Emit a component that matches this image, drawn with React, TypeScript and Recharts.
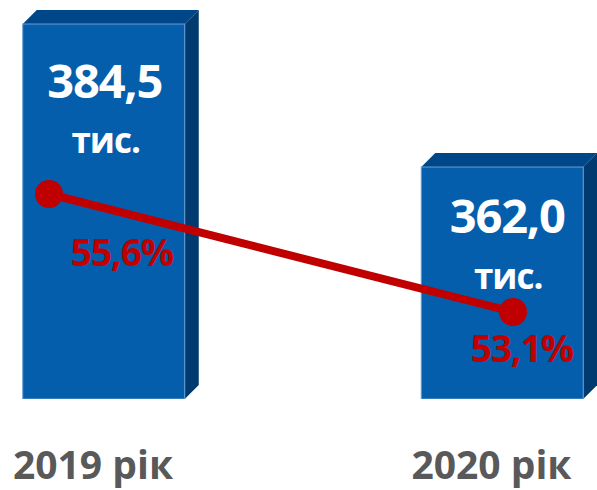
import React from 'react';
import { ComposedChart, Bar, Line, XAxis, YAxis, LabelList } from 'recharts';

const categories = ['2019 рік', '2020 рік'];
const employed = [384.5, 362.0];
const employedLabels = ['384,5', '362,0'];
const unitLabel = 'тис.';
const shares = [55.6, 53.1];
const shareLabels = ['55,6%', '53,1%'];

const data = categories.map((c, i) => ({
  idx: i,
  cat: c,
  employed: employed[i],
  share: shares[i],
}));

const FONT = '"Open Sans", "Noto Sans", sans-serif';
const DEPTH = 14;

const Bar3D = (props: any) => {
  const { x, y, width, height } = props;
  const d = DEPTH;
  return (
    <g>
      <polygon
        points={`${x},${y} ${x + d},${y - d} ${x + width + d},${y - d} ${x + width},${y}`}
        fill="#00478A"
      />
      <polygon
        points={`${x + width},${y} ${x + width + d},${y - d} ${x + width + d},${y + height - d} ${x + width},${y + height}`}
        fill="#003A6E"
      />
      <rect x={x} y={y} width={width} height={height} fill="#055EAC" stroke="#6A9BD2" strokeWidth={1} />
    </g>
  );
};

const valueOffsets = [
  { dx: 1, dy1: 74, dy2: 129 },
  { dx: 5, dy1: 66, dy2: 122 },
];

const BarValueLabel = (props: any) => {
  const { x, y, width, index } = props;
  const o = valueOffsets[index];
  const cx = x + width / 2 + o.dx;
  return (
    <g>
      <text x={cx} y={y + o.dy1} textAnchor="middle" fill="#FFFFFF" fontFamily={FONT} fontWeight={700} fontSize={47} letterSpacing={-1.2}>
        {employedLabels[index]}
      </text>
      <text x={cx + 1} y={y + o.dy2} textAnchor="middle" fill="#FFFFFF" fontFamily={FONT} fontWeight={700} fontSize={35} letterSpacing={-1}>
        {unitLabel}
      </text>
    </g>
  );
};

const shareOffsets = [
  { dx: 73, dy: 72 },
  { dx: 9, dy: 50 },
];

const ShareLabel = (props: any) => {
  const { x, y, index } = props;
  const o = shareOffsets[index];
  return (
    <text x={x + o.dx} y={y + o.dy} textAnchor="middle" fill="#C00000" fontFamily={FONT} fontWeight={700} fontSize={37} letterSpacing={-1}>
      {shareLabels[index]}
    </text>
  );
};

const CatTick = (props: any) => {
  const { x, payload } = props;
  return (
    <text x={x - 11} y={479} textAnchor="middle" fill="#595959" fontFamily={FONT} fontWeight={700} fontSize={39}>
      {categories[payload.value]}
    </text>
  );
};

export default function App() {
  return (
    <div style={{ position: 'absolute', left: 0, top: 0, width: 597, height: 490, background: '#FFFFFF' }}>
      <ComposedChart width={597} height={490} data={data} margin={{ top: 0, right: 0, bottom: 0, left: 0 }}>
        <XAxis
          xAxisId="bars"
          dataKey="idx"
          type="number"
          domain={[-0.26098, 1.23714]}
          allowDataOverflow
          ticks={[0, 1]}
          height={91}
          axisLine={false}
          tickLine={false}
          tick={<CatTick />}
          interval={0}
        />
        <XAxis
          xAxisId="line"
          dataKey="idx"
          type="number"
          domain={[-0.1056, 1.18104]}
          allowDataOverflow
          hide
        />
        <YAxis yAxisId="bars" type="number" domain={[325.5, 388.28]} allowDataOverflow hide />
        <YAxis yAxisId="line" type="number" domain={[51.257, 59.71]} allowDataOverflow hide />
        <Bar
          xAxisId="bars"
          yAxisId="bars"
          dataKey="employed"
          barSize={162}
          shape={<Bar3D />}
          isAnimationActive={false}
        >
          <LabelList dataKey="employed" content={<BarValueLabel />} />
        </Bar>
        <Line
          xAxisId="line"
          yAxisId="line"
          dataKey="share"
          stroke="#C00000"
          strokeWidth={8}
          dot={{ r: 14, fill: '#C00000', stroke: '#C00000', strokeWidth: 0 }}
          activeDot={false}
          isAnimationActive={false}
        >
          <LabelList dataKey="share" content={<ShareLabel />} />
        </Line>
      </ComposedChart>
    </div>
  );
}
